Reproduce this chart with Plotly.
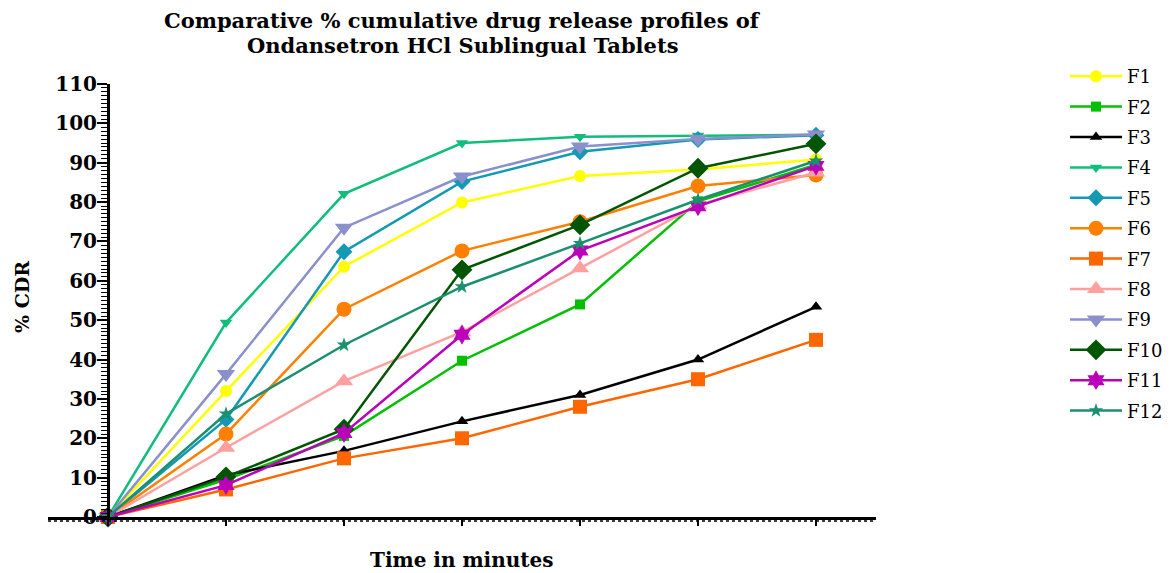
import plotly.graph_objects as go

time_min = [0, 1, 2, 3, 4, 5, 6]
series_names = ["F1", "F2", "F3", "F4", "F5", "F6", "F7", "F8", "F9", "F10", "F11", "F12"]

F1 = [0, 32.0, 63.6, 79.9, 86.6, 88.3, 90.8]
F2 = [0, 9.5, 20.6, 39.7, 54.0, 80.2, 89.5]
F3 = [0, 10.6, 16.8, 24.3, 31.0, 40.0, 53.4]
F4 = [0, 49.4, 82.1, 95.0, 96.6, 96.9, 97.1]
F5 = [0, 24.8, 67.4, 85.2, 92.8, 95.9, 97.0]
F6 = [0, 21.1, 52.8, 67.6, 75.0, 84.1, 86.9]
F7 = [0, 7.0, 14.9, 20.0, 28.0, 35.0, 45.0]
F8 = [0, 17.6, 34.5, 47.0, 63.2, 79.3, 87.5]
F9 = [0, 36.3, 73.5, 86.5, 94.1, 96.0, 97.2]
F10 = [0, 10.2, 22.3, 62.8, 74.2, 88.6, 94.8]
F11 = [0, 8.1, 21.3, 46.3, 67.7, 78.9, 89.2]
F12 = [0, 26.2, 43.7, 58.5, 69.5, 80.6, 90.5]

values = [F1, F2, F3, F4, F5, F6, F7, F8, F9, F10, F11, F12]

colors = ["#FFFF00", "#00C000", "#000000", "#10BE7C", "#1399B3", "#FF8000",
          "#FF6600", "#FFA0A0", "#8B90CC", "#005500", "#BB00BB", "#1A9070"]
symbols = ["circle", "square", "triangle-up", "triangle-down", "diamond", "circle",
           "square", "triangle-up", "triangle-down", "diamond", "hexagram", "star"]
sizes = [12, 10, 11, 11, 13, 15, 14, 16, 16, 16, 15, 11]

fig = go.Figure()
for name, vals, c, s, sz in zip(series_names, values, colors, symbols, sizes):
    fig.add_trace(go.Scatter(
        x=time_min, y=vals, name=name, mode="lines+markers",
        line=dict(color=c, width=2.5),
        marker=dict(color=c, symbol=s, size=sz, line=dict(width=0)),
        cliponaxis=False, legendgroup=name,
    ))

# page body has an 8px margin, so the figure is 8px smaller and shifted
W, H = 1163, 565
ml, mr, mt, mb = 40, 295, 76, 56
pw = W - ml - mr
ph = H - mt - mb
x0px, x6px = 100, 808
ypos = (x0px - ml) / pw
unit = (x6px - x0px) / 6.0
x_lo = -(x0px - ml) / unit
x_hi = 6 + (W - mr - x6px) / unit


def py(p):
    return (mt + ph - p) / ph


def px(p):
    return (p - ml) / pw


bold = dict(family="DejaVu Serif", color="black", weight="bold")

fig.update_layout(
    width=W, height=H,
    margin=dict(l=ml, r=mr, t=mt, b=mb, autoexpand=False),
    plot_bgcolor="white", paper_bgcolor="white",
    showlegend=True,
    legend=dict(
        x=px(1057), xanchor="left", y=py(50), yanchor="top",
        font=dict(family="DejaVu Serif", size=18, color="black"),
        bgcolor="rgba(0,0,0,0)", tracegroupgap=4, itemwidth=52,
        maxheight=520,
    ),
    xaxis=dict(
        range=[x_lo, x_hi], showgrid=False, zeroline=False,
        showline=True, linecolor="black", linewidth=3,
        ticks="outside", ticklen=6, tickwidth=2, tickcolor="black",
        tick0=0, dtick=1, showticklabels=False,
        automargin=False,
    ),
    yaxis=dict(
        range=[0, 110], anchor="free", position=ypos,
        showgrid=False, zeroline=False,
        showline=True, linecolor="black", linewidth=3,
        ticks="outside", ticklen=10, tickwidth=2, tickcolor="black",
        tick0=0, dtick=10, ticklabelstandoff=-4,
        minor=dict(dtick=1, ticks="outside", ticklen=6, tickwidth=1.3, tickcolor="black"),
        tickfont=dict(family="DejaVu Serif", size=20, color="black", weight="bold"),
        automargin=False,
    ),
    shapes=[dict(type="line", xref="paper", yref="paper", x0=0, x1=1,
                 y0=py(513), y1=py(513),
                 line=dict(color="black", width=1.5, dash="dot"))],
    annotations=[
        dict(text="Comparative % cumulative drug release profiles of",
             xref="paper", yref="paper", x=px(454), y=py(12),
             showarrow=False, xanchor="center", yanchor="middle",
             font=dict(size=21, **bold)),
        dict(text="Ondansetron HCl Sublingual Tablets",
             xref="paper", yref="paper", x=px(454), y=py(38),
             showarrow=False, xanchor="center", yanchor="middle",
             font=dict(size=21, **bold)),
        dict(text="% CDR", xref="paper", yref="paper",
             x=px(14), y=py(289), textangle=-90,
             showarrow=False, xanchor="center", yanchor="middle",
             font=dict(size=19, **bold)),
        dict(text="Time in minutes", xref="paper", yref="paper",
             x=px(454), y=py(552),
             showarrow=False, xanchor="center", yanchor="middle",
             font=dict(size=20, **bold)),
    ],
)

fig.write_html("out.html")
